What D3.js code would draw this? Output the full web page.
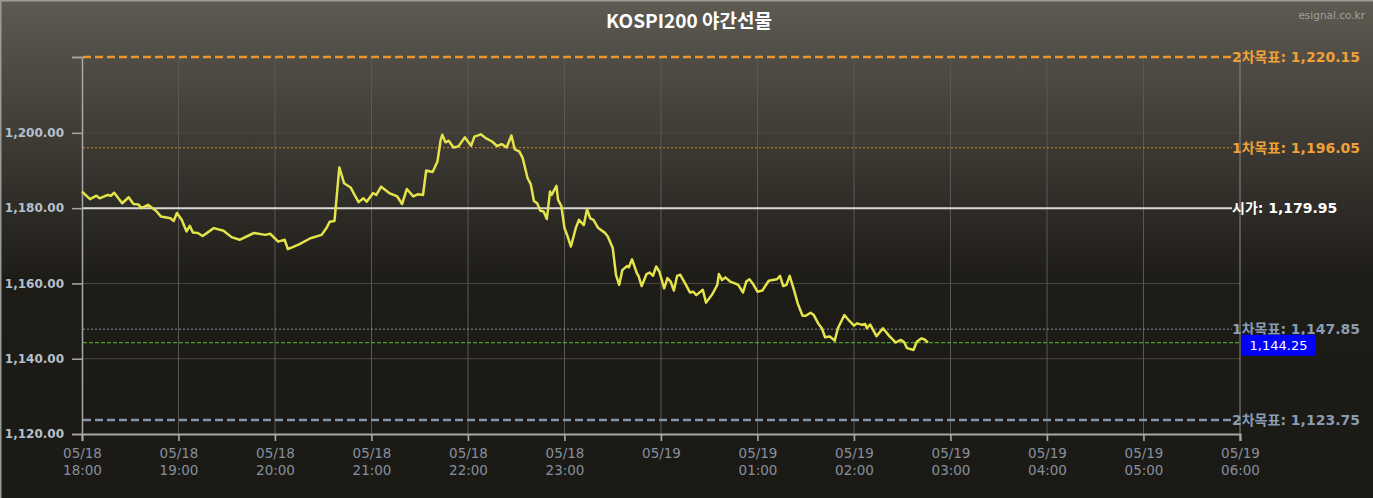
<!DOCTYPE html>
<html>
<head>
<meta charset="utf-8">
<script src="https://cdn.jsdelivr.net/npm/d3@7"></script>
<style>
  html, body { margin: 0; padding: 0; background: #1c1a16; }
  svg { display: block; }
</style>
</head>
<body>
<svg id="chart"></svg>
<script>
// KOSPI200 night futures, 05/18 18:00 ~ 05/19 06:00
var times = ["18:00","18:05","18:09","18:11","18:16","18:18","18:20","18:25","18:29","18:32",
  "18:35","18:37","18:41","18:46","18:49","18:55","18:57","18:59","19:02","19:05",
  "19:07","19:09","19:12","19:15","19:18","19:22","19:28","19:33","19:38","19:43",
  "19:47","19:54","19:57","20:02","20:06","20:08","20:15","20:22","20:29","20:32",
  "20:34","20:37","20:40","20:43","20:47","20:50","20:52","20:55","20:57","21:01",
  "21:03","21:06","21:11","21:16","21:19","21:22","21:26","21:29","21:32","21:34",
  "21:38","21:41","21:43","21:44","21:46","21:48","21:51","21:54","21:58","22:02",
  "22:04","22:08","22:11","22:15","22:18","22:21","22:24","22:27","22:29","22:32",
  "22:34","22:37","22:39","22:41","22:43","22:45","22:47","22:49","22:51","22:52",
  "22:55","22:56","22:58","23:00","23:02","23:04","23:07","23:09","23:12","23:14",
  "23:16","23:18","23:21","23:25","23:27","23:30","23:32","23:34","23:36","23:39",
  "23:40","23:42","23:45","23:46","23:48","23:51","23:53","23:55","23:57","23:59",
  "00:02","00:04","00:06","00:08","00:10","00:12","00:15","00:18","00:20","00:22",
  "00:26","00:28","00:32","00:35","00:36","00:38","00:40","00:43","00:46","00:48",
  "00:51","00:53","00:55","00:57","01:00","01:03","01:07","01:12","01:14","01:16",
  "01:18","01:20","01:23","01:25","01:28","01:30","01:33","01:35","01:38","01:40",
  "01:42","01:45","01:48","01:50","01:54","01:57","02:00","02:02","02:05","02:07",
  "02:08","02:10","02:14","02:18","02:22","02:26","02:29","02:31","02:33","02:37",
  "02:39","02:42","02:44","02:46"];

var prices = [1184.4,1182.4,1183.3,1182.6,1183.5,1183.3,1184.1,1181.3,1182.9,1181.1,
  1181.0,1180.0,1180.9,1179.3,1177.8,1177.3,1176.6,1178.7,1176.9,1173.8,
  1175.3,1173.5,1173.4,1172.6,1173.5,1174.7,1174.0,1172.3,1171.6,1172.6,
  1173.4,1172.9,1173.2,1171.1,1171.6,1169.1,1170.4,1172.0,1172.9,1174.7,
  1176.4,1176.6,1190.8,1186.6,1185.5,1183.1,1181.6,1182.6,1181.7,1184.0,
  1183.5,1185.7,1184.0,1183.1,1181.1,1185.1,1183.1,1183.7,1183.5,1190.0,
  1189.6,1192.4,1198.1,1199.5,1197.5,1197.9,1196.1,1196.4,1198.8,1196.6,
  1199.0,1199.6,1198.6,1197.7,1196.5,1197.0,1196.1,1199.3,1195.7,1195.0,
  1193.3,1188.0,1186.4,1181.9,1181.3,1179.3,1179.1,1177.1,1184.4,1183.5,
  1185.9,1182.2,1180.6,1174.7,1172.4,1169.8,1174.7,1176.9,1175.5,1179.7,
  1177.3,1176.9,1174.7,1173.5,1172.4,1169.4,1162.3,1159.6,1163.6,1164.6,
  1164.3,1166.4,1162.7,1162.0,1159.3,1162.5,1162.9,1162.0,1164.5,1163.1,
  1158.7,1161.4,1160.5,1158.1,1162.0,1162.3,1160.0,1157.6,1157.8,1156.9,
  1158.3,1154.9,1157.2,1159.6,1162.5,1160.9,1161.6,1160.5,1160.0,1159.6,
  1157.6,1160.5,1161.1,1160.0,1157.8,1158.1,1160.7,1161.1,1162.0,1159.3,
  1159.6,1162.0,1157.8,1154.7,1151.4,1151.4,1152.2,1151.6,1149.2,1148.1,
  1145.7,1145.9,1144.8,1148.1,1151.6,1150.1,1148.8,1149.4,1149.0,1149.2,
  1148.1,1149.1,1146.0,1148.1,1146.0,1144.3,1145.0,1144.5,1142.8,1142.3,
  1144.5,1145.4,1145.1,1144.25];

var yTicks = [1120, 1140, 1160, 1180, 1200];
var xTickDates = ["05/18","05/18","05/18","05/18","05/18","05/18","05/19","05/19","05/19","05/19","05/19","05/19","05/19"];
var xTickTimes = ["18:00","19:00","20:00","21:00","22:00","23:00","00:00","01:00","02:00","03:00","04:00","05:00","06:00"];
var xTickShown = ["18:00","19:00","20:00","21:00","22:00","23:00","","01:00","02:00","03:00","04:00","05:00","06:00"];

var refNames  = ["2차목표", "1차목표", "시가", "1차목표", "2차목표"];
var refValues = [1220.15, 1196.05, 1179.95, 1147.85, 1123.75];
var lastPrice = 1144.25;

var width = 1373, height = 498;
var margin = {top: 57, right: 133, bottom: 64, left: 82};

var svg = d3.select("#chart").attr("width", width).attr("height", height);

var fmt = d3.format(",.2f");
function parseT(s) {
  var p = s.split(":"), h = +p[0], m = +p[1];
  var d = new Date(2023, 4, 18, h, m);
  if (h < 18) d.setDate(d.getDate() + 1);
  return d;
}
var data = times.map(function(t, i) { return {t: parseT(t), v: prices[i]}; });
var tickDates = xTickTimes.map(function(t) { return parseT(t); });

// background
var defs = svg.append("defs");
var grad = defs.append("linearGradient").attr("id", "bg")
  .attr("x1", 0).attr("y1", 0).attr("x2", 0).attr("y2", 1);
grad.append("stop").attr("offset", "0%").attr("stop-color", "#5d5a52");
grad.append("stop").attr("offset", "55%").attr("stop-color", "#1e1c17");
grad.append("stop").attr("offset", "100%").attr("stop-color", "#1b1915");
svg.append("rect").attr("x", 0.5).attr("y", 0.5).attr("width", width + 10).attr("height", height + 10)
  .attr("fill", "url(#bg)").attr("stroke", "#9a9a96").attr("stroke-width", 2);

var x = d3.scaleTime()
  .domain([tickDates[0], tickDates[tickDates.length - 1]])
  .range([margin.left, width - margin.right]);
var y = d3.scaleLinear()
  .domain([1120, 1220.15])
  .range([height - margin.bottom, margin.top]);

var x0 = x.range()[0], x1 = x.range()[1];
var yBot = y.range()[0], yTop = y.range()[1];

// grid
svg.append("g").selectAll("line").data(yTicks.slice(1)).enter().append("line")
  .attr("x1", x0).attr("x2", x1)
  .attr("y1", function(d) { return y(d); }).attr("y2", function(d) { return y(d); })
  .attr("stroke", "#4a4844").attr("stroke-width", 1);
svg.append("g").selectAll("line").data(tickDates.slice(1)).enter().append("line")
  .attr("x1", function(d) { return x(d); }).attr("x2", function(d) { return x(d); })
  .attr("y1", yTop).attr("y2", yBot + 7)
  .attr("stroke", function(d, i) { return i == tickDates.length - 2 ? "#8a8a88" : "#5a5856"; })
  .attr("stroke-width", 1);

// y axis
var yAxis = svg.append("g").attr("transform", "translate(" + x0 + ",0)")
  .call(d3.axisLeft(y).tickValues(yTicks.concat([1220.15])).tickSize(10).tickPadding(8)
    .tickFormat(function(d) { return d == 1220.15 ? "" : fmt(d); }));
yAxis.select(".domain").attr("stroke", "#a8a8a8").attr("stroke-width", 1.5);
yAxis.selectAll(".tick line").attr("stroke", "#a8a8a8").attr("stroke-width", 1.5);
yAxis.selectAll(".tick text")
  .attr("fill", "#b6c0cc").attr("font-family", "'DejaVu Sans', sans-serif")
  .attr("font-size", 12).attr("font-weight", "bold");

// x axis
var xAxis = svg.append("g").attr("transform", "translate(0," + yBot + ")")
  .call(d3.axisBottom(x).tickValues(tickDates).tickSize(7).tickFormat(""));
xAxis.select(".domain").attr("stroke", "#a8a8a8").attr("stroke-width", 2);
xAxis.selectAll(".tick line").attr("stroke", "#a8a8a8").attr("stroke-width", 1.5);
var xl = xAxis.selectAll(".tick").append("text")
  .attr("fill", "#85909c").attr("font-family", "'DejaVu Sans', sans-serif")
  .attr("font-size", 13.5).attr("text-anchor", "middle");
xl.append("tspan").attr("x", 0).attr("y", 24).text(function(d, i) { return xTickDates[i]; });
xl.append("tspan").attr("x", 0).attr("y", 41).text(function(d, i) { return xTickShown[i]; });

// reference lines
var refColors = ["#e8962e", "#d98a2c", "#d8d8d8", "#8494a8", "#8494ac"];
var refWidths = [2.5, 1, 2, 1, 2.5];
var refDash = ["8,4", "2,2", null, "2,2", "8,4"];
var refText = ["#f0a038", "#f0a038", "#ffffff", "#8a9cb2", "#8a9cb2"];
var labelX = 1232;

svg.append("g").selectAll("line").data(refValues).enter().append("line")
  .attr("x1", x0 + 1).attr("x2", labelX)
  .attr("y1", function(d) { return y(d); }).attr("y2", function(d) { return y(d); })
  .attr("stroke", function(d, i) { return refColors[i]; })
  .attr("stroke-width", function(d, i) { return refWidths[i]; })
  .attr("stroke-dasharray", function(d, i) { return refDash[i]; });

svg.append("g").selectAll("text").data(refValues).enter().append("text")
  .attr("x", labelX).attr("y", function(d) { return y(d) + 5; })
  .attr("fill", function(d, i) { return refText[i]; })
  .attr("font-family", "'DejaVu Sans', 'Noto Sans CJK KR', sans-serif")
  .attr("font-size", 14).attr("font-weight", "bold")
  .text(function(d, i) { return refNames[i] + ": " + fmt(d); });

// current price line
svg.append("line")
  .attr("x1", x0 + 1).attr("x2", x1)
  .attr("y1", y(lastPrice)).attr("y2", y(lastPrice))
  .attr("stroke", "#5cc02a").attr("stroke-width", 1).attr("stroke-dasharray", "4,2");

// price line
var line = d3.line()
  .x(function(d) { return x(d.t); })
  .y(function(d) { return y(d.v); });
svg.append("path").datum(data)
  .attr("d", line)
  .attr("fill", "none").attr("stroke", "#e4e44a").attr("stroke-width", 2.5)
  .attr("stroke-linejoin", "round");

// current price box
svg.append("rect")
  .attr("x", x1 + 2).attr("y", y(lastPrice) - 8).attr("width", 73).attr("height", 21)
  .attr("fill", "#0000ff");
svg.append("text")
  .attr("x", x1 + 38.5).attr("y", y(lastPrice) + 7)
  .attr("text-anchor", "middle").attr("fill", "#ffffff")
  .attr("font-family", "'DejaVu Sans', sans-serif").attr("font-size", 13)
  .text(fmt(lastPrice));

// title
svg.append("text")
  .attr("x", 689).attr("y", 28).attr("text-anchor", "middle")
  .attr("fill", "#ffffff").attr("font-family", "'Noto Sans CJK KR', 'Noto Sans', sans-serif")
  .attr("font-size", 19).attr("font-weight", "bold")
  .text("KOSPI200 야간선물");

svg.append("text")
  .attr("x", 1365).attr("y", 19).attr("text-anchor", "end")
  .attr("fill", "#a0a0a0").attr("font-family", "'DejaVu Sans', sans-serif")
  .attr("font-size", 10.5)
  .text("esignal.co.kr");
</script>
</body>
</html>
